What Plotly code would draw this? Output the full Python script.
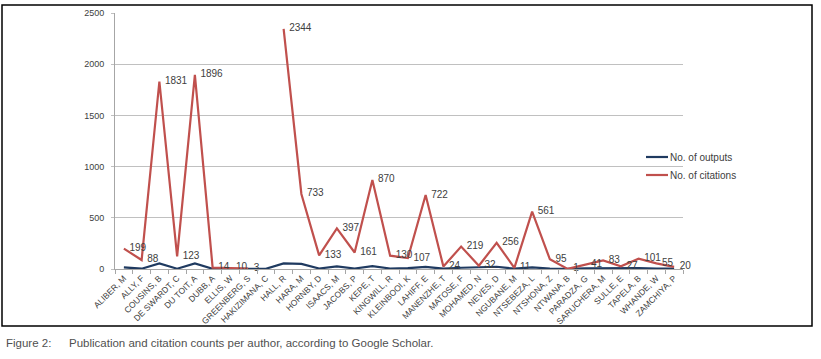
import plotly.graph_objects as go

authors = ["ALIBER, M", "ALLY, F", "COUSINS, B", "DE SWARDT, C", "DU TOIT, A", "DUBB, A",
           "ELLIS, W", "GREENBERG, S", "HAKIZIMANA, C", "HALL, R", "HARA, M", "HORNBY, D",
           "ISAACS, M", "JACOBS, P", "KEPE, T", "KINGWILL, R", "KLEINBOOI, K", "LAHIFF, E",
           "MANENZHE, T", "MATOSE, F", "MOHAMED, N", "NEVES, D", "NGUBANE, M", "NTSEBEZA, L",
           "NTSHONA, Z", "NTWANA, B", "PARADZA, G", "SARUCHERA, M", "SULLE, E", "TAPELA, B",
           "WHANDE, W", "ZAMCHIYA, P"]

outputs = [15, 3, 55, 3, 55, 2, 2, 1, 2, 55, 50, 5, 25, 5, 28, 5, 8, 20, 3, 12,
           15, 22, 3, 15, 5, 1, 6, 8, 5, 10, 5, 3]

citations = [199, 88, 1831, 123, 1896, 14, 10, 3, None, 2344, 733, 133, 397, 161, 870,
             130, 107, 722, 24, 219, 32, 256, 11, 561, 95, 1, 41, 83, 27, 101, 55, 20]

y_ticks = [0, 500, 1000, 1500, 2000, 2500]
series_names = ["No. of outputs", "No. of citations"]

BLUE = "#1F3A60"
RED = "#C0504D"
LABEL = "#404040"
FONT = "Liberation Sans, Arial, sans-serif"

fig = go.Figure()
fig.add_trace(go.Scatter(
    x=authors, y=outputs, mode="lines", name=series_names[0],
    line=dict(color=BLUE, width=2.2), connectgaps=False, cliponaxis=False,
))
fig.add_trace(go.Scatter(
    x=authors, y=citations, mode="lines+text", name=series_names[1],
    line=dict(color=RED, width=2.2), connectgaps=False, cliponaxis=False,
    text=["" if v is None else "\u00a0\u00a0" + str(v) for v in citations],
    textposition="middle right",
    textfont=dict(family=FONT, size=10, color=LABEL),
))

L, R, T, B = 115, 138, 13, 90
pw, ph = 821 - L - R, 359 - T - B

def px(x):
    return (x - L) / pw

def py(y):
    return (359 - B - y) / ph

fig.add_shape(type="rect", xref="paper", yref="paper",
              x0=px(2), x1=px(812), y0=py(326), y1=py(5),
              line=dict(color="#000000", width=1.5), fillcolor="rgba(0,0,0,0)", layer="above")

# custom legend (short Excel-style keys)
for i, (name, col) in enumerate(zip(series_names, [BLUE, RED])):
    yy = py(157 + 18 * i)
    fig.add_shape(type="line", xref="paper", yref="paper",
                  x0=px(646), x1=px(668), y0=yy, y1=yy,
                  line=dict(color=col, width=2.2))
    fig.add_annotation(xref="paper", yref="paper", x=px(668), y=yy, xanchor="left", yanchor="middle",
                       text=name, showarrow=False,
                       font=dict(family=FONT, size=10, color=LABEL))

fig.add_annotation(xref="paper", yref="paper", x=px(4), y=py(343), xanchor="left", yanchor="middle",
                   text="Figure 2:", showarrow=False,
                   font=dict(family=FONT, size=11.5, color="#505050"))
fig.add_annotation(xref="paper", yref="paper", x=px(67), y=py(343), xanchor="left", yanchor="middle",
                   text="Publication and citation counts per author, according to Google Scholar.",
                   showarrow=False,
                   font=dict(family=FONT, size=11.5, color="#505050"))

fig.update_layout(
    width=821, height=359,
    margin=dict(l=L, r=R, t=T, b=B, autoexpand=False),
    paper_bgcolor="white", plot_bgcolor="white",
    showlegend=False,
    font=dict(family=FONT, color=LABEL),
)
fig.update_xaxes(
    type="category", range=[-0.5, len(authors) - 0.5], automargin=False,
    tickangle=-45, tickfont=dict(size=8.5, color=LABEL),
    showline=True, linecolor="#A6A6A6", linewidth=1,
    ticks="outside", tickson="boundaries", ticklen=4, tickcolor="#A6A6A6",
    showgrid=False, zeroline=False,
)
fig.update_yaxes(
    range=[0, 2500], tickvals=y_ticks, automargin=False,
    tickfont=dict(size=9, color=LABEL), ticklabelstandoff=5,
    showgrid=True, gridcolor="#C0C0C0", gridwidth=1,
    showline=True, linecolor="#A6A6A6", linewidth=1,
    ticks="outside", ticklen=3, tickcolor="#C0C0C0",
    zeroline=False,
)

fig.write_html("out.html", config={"displayModeBar": False},
               post_script="document.body.style.margin='0px';document.body.style.overflow='hidden';")
